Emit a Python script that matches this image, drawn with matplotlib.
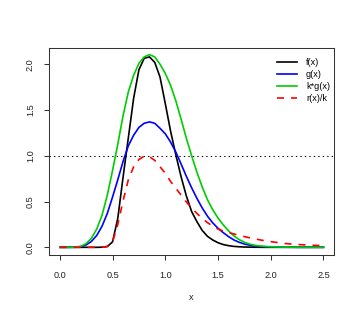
import matplotlib
matplotlib.use("Agg")
import matplotlib.pyplot as plt

plt.rcParams['font.family'] = ['Liberation Sans', 'DejaVu Sans']

x = [0.00, 0.05, 0.10, 0.15, 0.20, 0.25, 0.30, 0.35, 0.40, 0.45,
     0.50, 0.55, 0.60, 0.65, 0.70, 0.75, 0.80, 0.85, 0.90, 0.95,
     1.00, 1.05, 1.10, 1.15, 1.20, 1.25, 1.30, 1.35, 1.40, 1.45,
     1.50, 1.55, 1.60, 1.65, 1.70, 1.75, 1.80, 1.85, 1.90, 1.95,
     2.00, 2.05, 2.10, 2.15, 2.20, 2.25, 2.30, 2.35, 2.40, 2.45, 2.50]

f_x = [0, 0, 0, 0, 0, 0, 0, 0, 0.001, 0.008,
       0.06, 0.32, 0.77, 1.20, 1.63, 1.94, 2.065, 2.08, 2.02, 1.86,
       1.57, 1.27, 1.01, 0.77, 0.56, 0.39, 0.28, 0.185, 0.12, 0.08,
       0.05, 0.03, 0.018, 0.01, 0.006, 0.003, 0.002, 0.001, 0.0005, 0,
       0, 0, 0, 0, 0, 0, 0, 0, 0, 0, 0]

g_x = [0, 0, 0, 0.001, 0.008, 0.026, 0.065, 0.13, 0.23, 0.37,
       0.55, 0.74, 0.94, 1.11, 1.225, 1.31, 1.355, 1.37, 1.355, 1.30,
       1.24, 1.15, 1.04, 0.91, 0.775, 0.65, 0.535, 0.43, 0.34, 0.267,
       0.208, 0.16, 0.117, 0.081, 0.055, 0.036, 0.023, 0.014, 0.009, 0.006,
       0.004, 0.003, 0.002, 0.001, 0.001, 0, 0, 0, 0, 0, 0]

kg_x = [0, 0, 0, 0.002, 0.012, 0.04, 0.10, 0.20, 0.35, 0.57,
        0.84, 1.13, 1.44, 1.70, 1.88, 2.01, 2.08, 2.105, 2.08, 2.00,
        1.90, 1.77, 1.60, 1.40, 1.19, 1.00, 0.82, 0.66, 0.52, 0.41,
        0.32, 0.245, 0.18, 0.125, 0.085, 0.055, 0.035, 0.022, 0.014, 0.009,
        0.006, 0.004, 0.003, 0.002, 0.001, 0.001, 0, 0, 0, 0, 0]

rk_x = [0, 0, 0, 0, 0, 0, 0, 0, 0.001, 0.01,
        0.06, 0.25, 0.51, 0.74, 0.88, 0.96, 0.995, 0.99, 0.95, 0.88,
        0.81, 0.72, 0.645, 0.57, 0.495, 0.43, 0.37, 0.315, 0.27, 0.23,
        0.20, 0.178, 0.16, 0.146, 0.13, 0.117, 0.104, 0.092, 0.081, 0.07,
        0.062, 0.054, 0.047, 0.04, 0.035, 0.031, 0.028, 0.025, 0.022, 0.02, 0.018]

labels = ["f(x)", "g(x)", "k*g(x)", "r(x)/k"]
xticks = [0.0, 0.5, 1.0, 1.5, 2.0, 2.5]
yticks = [0.0, 0.5, 1.0, 1.5, 2.0]

fs = 6.6
fig = plt.figure(figsize=(3.6, 3.17), dpi=100)
ax = fig.add_axes([49.3/360, 1-255/317, (334-49.3)/360, (255-48.3)/317])

lw = 1.2
ax.plot(x, f_x, color='black', lw=lw, label=labels[0])
ax.plot(x, g_x, color='#0000FF', lw=lw, label=labels[1])
ax.plot(x, kg_x, color='#00CD00', lw=lw, label=labels[2])
ax.plot(x, rk_x, color='#FF0000', lw=lw, linestyle=(0, (4.2, 4.2)), label=labels[3])
ax.axhline(1.0, color='black', lw=0.75, linestyle=(0, (1.3, 3)))

ax.set_xlim(-0.1, 2.6)
ax.set_ylim(-0.084, 2.174)
ax.set_xticks(xticks)
ax.set_xticklabels([f"{v:.1f}" for v in xticks])
ax.set_yticks(yticks)
ax.set_yticklabels([f"{v:.1f}" for v in yticks], rotation=90, va='center')
ax.tick_params(axis='both', direction='out', length=3.6, width=0.75, labelsize=fs, color='#333333', labelcolor='#222222')
ax.tick_params(axis='x', pad=7.8)
ax.tick_params(axis='y', pad=6.8)
for s in ax.spines.values():
    s.set_linewidth(0.75)
    s.set_color('#333333')

ax.set_xlabel("x", fontsize=fs, color='#222222')
ax.xaxis.set_label_coords(0.5, -(298-255)/206.7)
ax.xaxis.label.set_va('center')

leg = ax.legend(loc='upper right', frameon=False, fontsize=fs, handlelength=2.1,
                handletextpad=1.0, labelspacing=0.33, borderaxespad=0.0, borderpad=0.2,
                bbox_to_anchor=(0.992, 0.963))

fig.savefig("out.png", dpi=100)
